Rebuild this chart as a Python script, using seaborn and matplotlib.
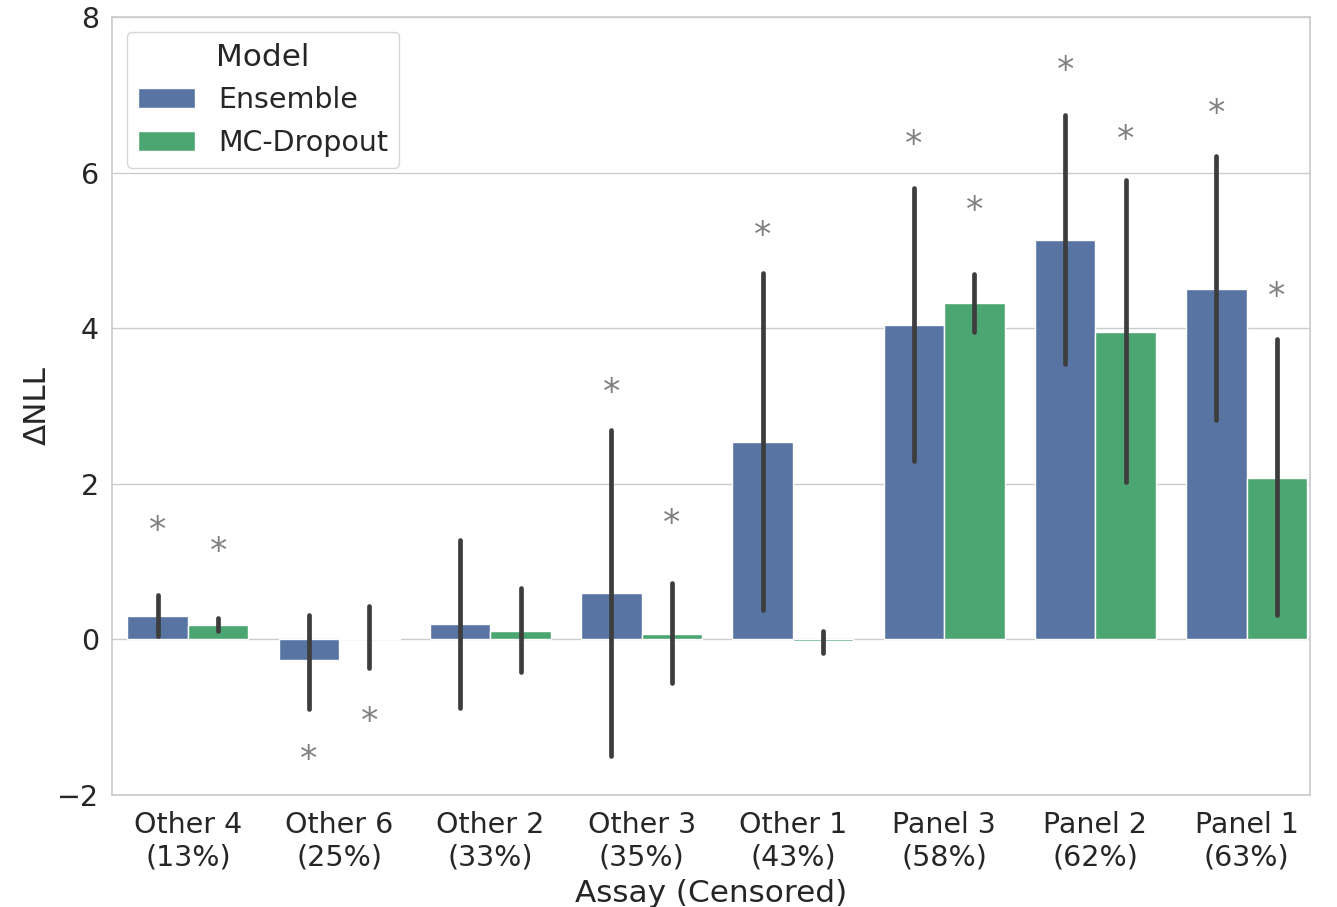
import matplotlib
matplotlib.use("Agg")
import matplotlib.pyplot as plt
import numpy as np
import pandas as pd
import seaborn as sns

# values
assays = ["Other 4\n(13%)", "Other 6\n(25%)", "Other 2\n(33%)", "Other 3\n(35%)",
          "Other 1\n(43%)", "Panel 3\n(58%)", "Panel 2\n(62%)", "Panel 1\n(63%)"]
models = ["Ensemble", "MC-Dropout"]

ens_mean = [0.30, -0.27, 0.19, 0.59, 2.53, 4.04, 5.13, 4.51]
ens_lo = [0.04, -0.90, -0.89, -1.50, 0.37, 2.29, 3.54, 2.82]
ens_hi = [0.57, 0.31, 1.28, 2.69, 4.71, 5.80, 6.74, 6.21]
ens_star = [1.47, -1.48, np.nan, 3.25, 5.27, 6.44, 7.39, 6.84]

mc_mean = [0.18, 0.02, 0.11, 0.07, -0.03, 4.32, 3.95, 2.07]
mc_lo = [0.11, -0.37, -0.43, -0.57, -0.18, 3.95, 2.02, 0.31]
mc_hi = [0.27, 0.42, 0.66, 0.72, 0.11, 4.70, 5.90, 3.86]
mc_star = [1.20, -0.99, np.nan, 1.56, np.nan, 5.59, 6.50, 4.48]

df = pd.DataFrame({
    "Assay": assays * 2,
    "Model": ["Ensemble"] * len(assays) + ["MC-Dropout"] * len(assays),
    "dNLL": ens_mean + mc_mean,
})
lows = [ens_lo, mc_lo]
highs = [ens_hi, mc_hi]
stars = [ens_star, mc_star]

sns.set_theme(style="whitegrid", font_scale=1.87)
plt.rcParams["font.family"] = ["DejaVu Sans"]

fig, ax = plt.subplots(figsize=(13.37, 9.07), dpi=100)
sns.barplot(data=df, x="Assay", y="dNLL", hue="Model", errorbar=None,
            palette=["#5874a3", "#4ca672"], saturation=1, ax=ax)

# error bars and significance stars, placed at the bar centres
for bars, lo, hi, st in zip(ax.containers, lows, highs, stars):
    xs = [p.get_x() + p.get_width() / 2 for p in bars.patches]
    ax.vlines(xs, lo, hi, colors="#3d3d3d", linewidth=3.4, capstyle="round", zorder=3)
    for x, s in zip(xs, st):
        if not np.isnan(s):
            ax.annotate("*", (x, s), xytext=(0, -4.5), textcoords="offset points",
                        ha="center", va="center", fontsize=25, color="#808080")

ax.set_xlim(-0.5, 7.42)
ax.set_ylim(-2, 8)
ax.set_yticks([-2, 0, 2, 4, 6, 8])
ax.tick_params(axis="x", pad=6)
ax.set_xlabel("Assay (Censored)", labelpad=5)
ax.set_ylabel("ΔNLL")
ax.grid(axis="x", visible=False)
for s in ax.spines.values():
    s.set_color("#cccccc")
ax.legend(title="Model", loc="upper left")

fig.subplots_adjust(left=0.084, right=0.980, top=0.981, bottom=0.124)
fig.savefig("out.png", dpi=100)
